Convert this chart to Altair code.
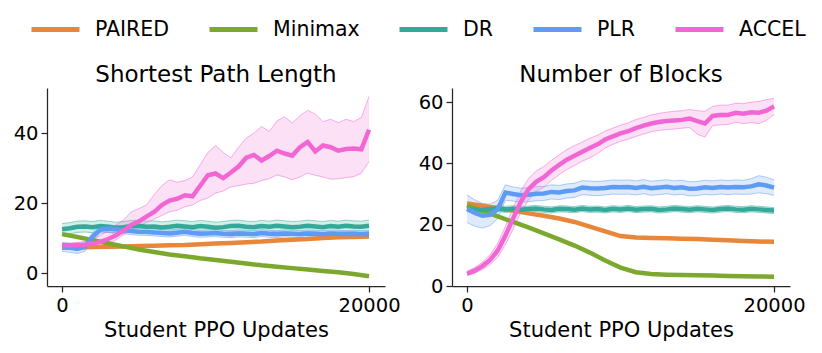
import altair as alt
import pandas as pd

SERIES = ["PAIRED", "Minimax", "DR", "PLR", "ACCEL"]
COLORS = ["#E8863A", "#7DA82E", "#33AA99", "#5E9CF4", "#F266D4"]

T500 = list(range(0, 20001, 500))
T1000 = list(range(0, 20001, 1000))

# ---------------- Shortest Path Length ----------------
PAIRED_L = [7.3, 7.4, 7.5, 7.6, 7.7, 7.8, 7.9, 8.0, 8.1, 8.3, 8.5, 8.7, 8.9, 9.1, 9.4, 9.6, 9.8, 10.1, 10.3, 10.4, 10.5]
MINIMAX_L = [11.2, 10.4, 9.5, 8.6, 7.7, 6.8, 6.1, 5.4, 4.9, 4.3, 3.8, 3.3, 2.8, 2.3, 1.9, 1.5, 1.1, 0.7, 0.3, -0.2, -0.8]
DR_L = [12.6, 12.9, 13.3, 13.4, 13.2, 13.5, 13.3, 13.0, 13.2, 13.5, 13.6, 13.3, 13.4, 13.1, 13.3, 13.6, 13.4, 13.2, 13.5, 13.3, 13.0,
        13.2, 13.5, 13.6, 13.3, 13.2, 13.5, 13.3, 13.6, 13.4, 13.2, 13.3, 13.6, 13.4, 13.2, 13.5, 13.3, 13.6, 13.4, 13.3, 13.6]
DR_L_HW = [1.6] * 41
PLR_L = [7.6, 7.3, 7.0, 7.6, 10.5, 12.5, 12.8, 12.6, 12.3, 12.1, 11.9, 11.8, 11.7, 11.5, 11.4, 11.6, 11.9, 11.5, 11.3, 11.4, 11.5,
         11.3, 11.2, 11.4, 11.3, 11.2, 11.5, 11.3, 11.2, 11.4, 11.3, 11.2, 11.4, 11.3, 11.2, 11.4, 11.3, 11.2, 11.3, 11.2, 11.2]
PLR_L_HW = [1.3, 1.3, 1.3, 1.3, 1.2, 1.1] + [1.0] * 35
ACCEL_L = [8.0, 8.0, 8.1, 8.2, 8.5, 9.0, 9.8, 10.8, 12.2, 13.8, 14.8, 16.2, 17.5, 19.5, 20.8, 21.3, 22.3, 22.0, 25.0, 28.0, 28.5,
           27.2, 28.8, 30.5, 33.0, 33.8, 32.2, 33.5, 35.0, 34.2, 33.6, 36.0, 37.5, 34.8, 36.5, 36.0, 35.0, 35.5, 35.6, 35.4, 41.0]
ACCEL_L_HI = [8.5, 8.6, 8.8, 9.2, 9.8, 10.8, 12.3, 13.8, 15.2, 17.5, 18.5, 19.5, 22.5, 25.0, 26.7, 26.0, 26.5, 27.5, 31.0, 34.5, 36.5,
              34.5, 33.0, 36.0, 38.6, 40.0, 41.9, 40.5, 43.5, 44.7, 42.9, 45.0, 46.5, 45.5, 43.3, 44.0, 43.0, 44.0, 43.3, 44.5, 50.5]
ACCEL_L_LO = [7.5, 7.4, 7.4, 7.4, 7.5, 7.8, 8.5, 9.5, 11.0, 12.5, 13.5, 14.5, 15.5, 16.5, 17.6, 18.0, 19.0, 19.5, 20.8, 21.5, 22.9,
              23.5, 24.7, 25.0, 25.5, 25.7, 26.5, 27.0, 28.1, 27.5, 26.7, 27.5, 28.6, 28.0, 27.5, 26.9, 27.0, 27.3, 27.6, 28.6, 31.9]

# ---------------- Number of Blocks ----------------
PAIRED_R = [26.9, 26.2, 25.4, 24.6, 23.7, 22.9, 22.0, 20.9, 19.4, 17.8, 16.3, 15.8, 15.7, 15.6, 15.4, 15.3, 15.1, 14.9, 14.7, 14.5, 14.4]
MINIMAX_R = [26.3, 24.5, 22.7, 20.9, 19.1, 17.2, 15.2, 13.2, 10.9, 8.3, 6.0, 4.5, 3.9, 3.7, 3.6, 3.5, 3.4, 3.3, 3.2, 3.1, 3.0]
DR_R = [25.2, 25.0, 24.8, 25.1, 25.3, 25.0, 25.2, 24.9, 25.1, 25.3, 25.0, 24.8, 25.2, 25.1, 24.9, 25.3, 25.0, 25.1, 24.8, 25.2, 25.0,
        25.3, 24.9, 25.1, 25.2, 24.8, 25.0, 25.3, 25.1, 24.9, 25.2, 25.0, 24.8, 25.1, 25.3, 25.0, 24.9, 25.2, 25.0, 24.8, 24.6]
DR_R_HW = [1.0] * 41
PLR_R = [25.2, 23.8, 22.9, 23.2, 25.0, 30.5, 30.0, 29.6, 29.8, 30.1, 30.2, 30.7, 30.5, 31.0, 31.2, 32.1, 31.9, 31.8, 32.0, 32.3, 32.2,
         32.3, 32.0, 32.4, 31.9, 32.1, 32.4, 32.0, 32.2, 31.7, 31.8, 32.2, 32.0, 32.3, 32.1, 32.3, 32.2, 32.5, 33.2, 32.8, 32.1]
PLR_R_HW = [4.5, 4.3, 4.0, 3.5, 3.0, 2.5] + [2.3] * 31 + [2.5, 2.8, 2.7, 2.5]
ACCEL_R = [4.0, 5.0, 6.5, 8.5, 11.6, 16.5, 22.0, 27.5, 31.5, 34.0, 35.5, 37.7, 39.5, 41.2, 42.5, 43.8, 45.0, 46.2, 47.8, 48.8, 49.8,
           50.5, 51.5, 52.3, 53.0, 53.5, 53.8, 54.0, 54.2, 54.6, 53.8, 53.0, 55.5, 55.8, 55.8, 56.5, 56.2, 56.7, 56.5, 57.2, 58.6]
ACCEL_R_HI = [4.8, 6.0, 7.8, 10.2, 14.0, 19.5, 25.5, 31.0, 35.0, 37.5, 39.0, 41.0, 42.8, 44.5, 45.8, 47.0, 48.2, 49.2, 50.6, 51.5, 52.5,
              53.2, 54.3, 55.0, 55.8, 56.3, 56.7, 57.0, 57.2, 57.6, 57.2, 57.0, 58.6, 59.0, 59.0, 59.6, 59.5, 60.0, 60.2, 60.8, 61.2]
ACCEL_R_LO = [3.4, 4.2, 5.4, 7.0, 9.4, 13.5, 18.5, 24.0, 28.0, 30.8, 32.2, 34.5, 36.3, 38.0, 39.3, 40.7, 41.8, 43.2, 45.0, 46.2, 47.2,
              47.9, 48.8, 49.6, 50.3, 50.8, 51.0, 51.2, 51.5, 51.7, 49.5, 48.6, 52.3, 52.6, 52.7, 53.4, 53.0, 53.3, 53.0, 54.0, 56.0]


def frame(entries):
    recs = []
    for name, ts, mean, lo, hi in entries:
        for i, t in enumerate(ts):
            recs.append({"t": t, "series": name, "value": mean[i],
                         "lo": lo[i] if lo else None, "hi": hi[i] if hi else None})
    return pd.DataFrame(recs)


def band(mean, hw):
    return [m - h for m, h in zip(mean, hw)], [m + h for m, h in zip(mean, hw)]


dr_l_lo, dr_l_hi = band(DR_L, DR_L_HW)
plr_l_lo, plr_l_hi = band(PLR_L, PLR_L_HW)
dr_r_lo, dr_r_hi = band(DR_R, DR_R_HW)
plr_r_lo, plr_r_hi = band(PLR_R, PLR_R_HW)

left_df = frame([
    ("PAIRED", T1000, PAIRED_L, None, None),
    ("Minimax", T1000, MINIMAX_L, None, None),
    ("DR", T500, DR_L, dr_l_lo, dr_l_hi),
    ("PLR", T500, PLR_L, plr_l_lo, plr_l_hi),
    ("ACCEL", T500, ACCEL_L, ACCEL_L_LO, ACCEL_L_HI),
])
right_df = frame([
    ("PAIRED", T1000, PAIRED_R, None, None),
    ("Minimax", T1000, MINIMAX_R, None, None),
    ("DR", T500, DR_R, dr_r_lo, dr_r_hi),
    ("PLR", T500, PLR_R, plr_r_lo, plr_r_hi),
    ("ACCEL", T500, ACCEL_R, ACCEL_R_LO, ACCEL_R_HI),
])

FONT = "DejaVu Sans"
W, H = 338, 198
XDOM = [-980, 21040]

LEGEND = alt.Legend(title=None, orient="none", legendX=-18, legendY=-85, direction="horizontal",
                    columns=5, symbolType="stroke", symbolSize=2304, symbolStrokeWidth=5,
                    labelFont=FONT, labelFontSize=20.5, labelColor="black", labelOffset=13,
                    columnPadding=29, labelLimit=0)


def panel(df, title, ydom, yvals):
    x = alt.X("t:Q", scale=alt.Scale(domain=XDOM, nice=False, zero=False),
              axis=alt.Axis(values=[0, 20000], format="d", title="Student PPO Updates"))
    ysc = alt.Scale(domain=ydom, nice=False, zero=False)
    yax = alt.Axis(values=yvals, title=None)
    layers = []
    for name in ["DR", "PLR", "ACCEL"]:
        col = COLORS[SERIES.index(name)]
        sdf = df[df.series == name]
        b = alt.Chart(sdf)
        layers.append(b.mark_area(opacity=0.2, color=col).encode(
            x=x, y=alt.Y("lo:Q", scale=ysc, axis=yax), y2="hi:Q"))
        layers.append(b.mark_line(strokeWidth=1, opacity=0.5, color=col).encode(
            x=x, y=alt.Y("lo:Q", scale=ysc, axis=yax)))
        layers.append(b.mark_line(strokeWidth=1, opacity=0.5, color=col).encode(
            x=x, y=alt.Y("hi:Q", scale=ysc, axis=yax)))
    color = alt.Color("series:N", scale=alt.Scale(domain=SERIES, range=COLORS), legend=LEGEND)
    layers.append(alt.Chart(df).mark_line(strokeWidth=4.5).encode(
        x=x, y=alt.Y("value:Q", scale=ysc, axis=yax), color=color))
    return alt.layer(*layers).properties(
        width=W, height=H,
        title=alt.TitleParams(title, fontSize=23, fontWeight="normal", font=FONT, color="black", offset=1))


left = panel(left_df, "Shortest Path Length", [-3.6, 52.9], [0, 20, 40])
right = panel(right_df, "Number of Blocks", [0, 64.6], [0, 20, 40, 60])

chart = alt.hconcat(left, right, spacing=67, bounds="flush").properties(
    padding={"left": 5, "top": -5, "right": 5, "bottom": 5}
).configure_view(stroke=None).configure_axis(
    grid=False, domainColor="#262626", tickColor="#262626", domainWidth=1.25, tickWidth=1.25,
    tickSize=6, labelFont=FONT, labelFontSize=19.5, labelColor="black", labelPadding=4,
    titleFont=FONT, titleFontSize=21, titleFontWeight="normal", titleColor="black", titlePadding=5
).configure_axisY(labelPadding=3)

chart.save("out.html", embed_options={"renderer": "svg", "actions": False})
